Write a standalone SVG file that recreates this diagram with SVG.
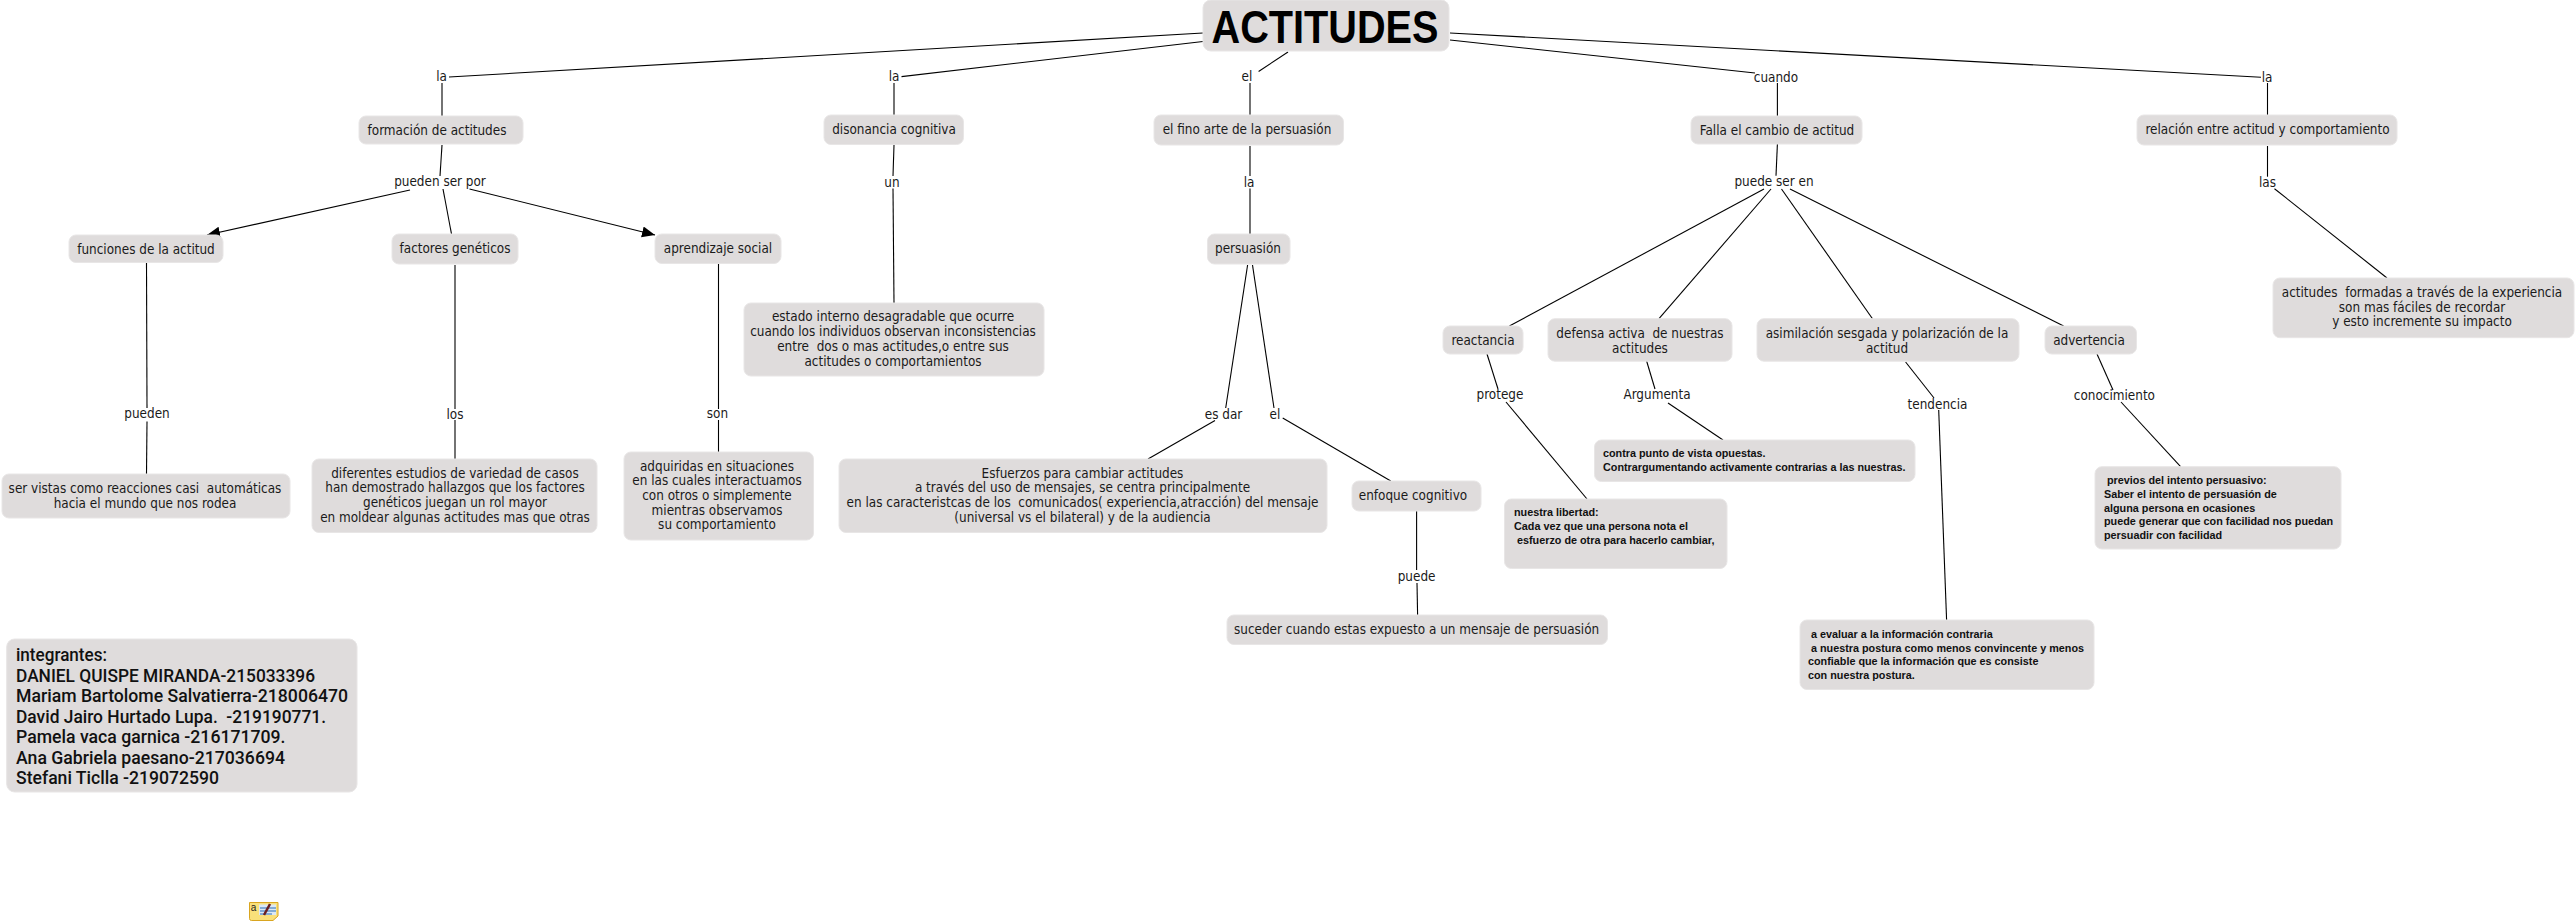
<svg xmlns="http://www.w3.org/2000/svg" width="2576" height="923" viewBox="0 0 2576 923">
<style>
text{font-family:"DejaVu Sans Condensed","DejaVu Sans",sans-serif;font-stretch:condensed;font-size:13.4px;fill:#1a1a1a;text-anchor:middle;white-space:pre}
rect{fill:#dfdcdc;stroke:#e8e6e6;stroke-width:1}
.c line{stroke:#000;stroke-width:1.1;fill:none}
.b text{font-family:"Liberation Sans",Arial,sans-serif;font-stretch:normal;font-weight:bold;font-size:10.8px;text-anchor:start;fill:#111}
.m text{font-family:Roboto,"Liberation Sans",sans-serif;font-stretch:normal;font-weight:500;font-size:18px;text-anchor:start;fill:#111}
#root text{font-family:"Liberation Sans",Arial,sans-serif;font-stretch:normal;font-weight:bold;font-size:46px;fill:#000}
</style>
<defs><marker id="a" markerUnits="userSpaceOnUse" markerWidth="15" markerHeight="13" refX="13" refY="5.5" orient="auto"><path d="M0 0L13 5.5L0 11Z" fill="#000"/></marker></defs>
<g id="connectors" class="c">
<line x1="449" y1="77" x2="1203" y2="33"/><line x1="442" y1="83" x2="442" y2="116"/>
<line x1="442" y1="145" x2="440" y2="176"/>
<line x1="410" y1="190" x2="207" y2="235" marker-end="url(#a)"/>
<line x1="443" y1="189" x2="451.5" y2="234"/>
<line x1="469.5" y1="189" x2="655" y2="235" marker-end="url(#a)"/>
<line x1="146.5" y1="263" x2="147" y2="408"/><line x1="147" y1="421.5" x2="146.5" y2="474"/>
<line x1="455" y1="265" x2="455" y2="409"/><line x1="455" y1="420" x2="455" y2="459"/>
<line x1="718.5" y1="264" x2="718.5" y2="409"/><line x1="718.5" y1="420" x2="718.5" y2="452"/>
<line x1="901.5" y1="76.6" x2="1203" y2="41.5"/><line x1="894" y1="83" x2="894" y2="115"/>
<line x1="894" y1="145" x2="893" y2="176"/><line x1="893" y1="188.5" x2="894" y2="303"/>
<line x1="1288" y1="52" x2="1258.6" y2="71.5"/><line x1="1250" y1="83" x2="1250" y2="115"/>
<line x1="1250" y1="146" x2="1250" y2="176"/><line x1="1250" y1="188.5" x2="1250" y2="234"/>
<line x1="1247.6" y1="265" x2="1225.7" y2="408"/><line x1="1215" y1="420.5" x2="1148" y2="459"/>
<line x1="1252.5" y1="265" x2="1274" y2="408"/><line x1="1282.7" y1="418" x2="1390.8" y2="481"/>
<line x1="1416.6" y1="511" x2="1416.6" y2="570"/><line x1="1417" y1="583" x2="1417.6" y2="615"/>
<line x1="1450" y1="40" x2="1755" y2="73"/><line x1="1777.4" y1="83" x2="1777.4" y2="116"/>
<line x1="1777.4" y1="144" x2="1776" y2="175.7"/>
<line x1="1764" y1="189" x2="1509.4" y2="326"/><line x1="1771" y1="189" x2="1659" y2="318.7"/>
<line x1="1781.5" y1="189" x2="1872.5" y2="318.7"/><line x1="1790" y1="189" x2="2063.6" y2="326"/>
<line x1="1487" y1="354" x2="1498" y2="389"/><line x1="1506" y1="402" x2="1587" y2="499"/>
<line x1="1646.6" y1="361" x2="1655" y2="389"/><line x1="1668" y1="403" x2="1723" y2="440"/>
<line x1="1905.6" y1="362" x2="1934" y2="398"/><line x1="1938.7" y1="410" x2="1946.6" y2="620"/>
<line x1="2097" y1="354" x2="2113" y2="390"/><line x1="2121" y1="402" x2="2180.6" y2="466.7"/>
<line x1="1450" y1="33" x2="2261" y2="77.3"/><line x1="2267.5" y1="83" x2="2267.5" y2="115"/>
<line x1="2267.5" y1="146" x2="2267.5" y2="176.7"/><line x1="2274.5" y1="188.7" x2="2387" y2="278"/>
</g>
<g id="labels">
<text x="441.5" y="81">la</text><text x="440" y="185.5">pueden ser por</text><text x="147" y="417.5">pueden</text><text x="455" y="418.5">los</text><text x="717.5" y="418">son</text>
<text x="894" y="81">la</text><text x="892" y="186.5">un</text><text x="1247" y="81">el</text><text x="1249" y="186.5">la</text><text x="1223.5" y="418.5">es dar</text><text x="1275" y="418.5">el</text><text x="1416.6" y="580.5">puede</text>
<text x="1776" y="81.5">cuando</text><text x="1774" y="185.5">puede ser en</text><text x="2267" y="81.5">la</text><text x="2267.5" y="186.5">las</text>
<text x="1500" y="399">protege</text><text x="1657" y="399">Argumenta</text><text x="1937.5" y="408.5">tendencia</text><text x="2114.4" y="400">conocimiento</text>
</g>
<g id="root"><rect x="1203" y="0" width="246" height="51" rx="8"/><text x="1325" y="43" textLength="227" lengthAdjust="spacingAndGlyphs">ACTITUDES</text></g>
<g id="n1"><rect x="359" y="116" width="164" height="28" rx="7"/><text x="437" y="135">formación de actitudes</text></g>
<g id="n2"><rect x="69" y="235" width="154" height="27.5" rx="7"/><text x="146" y="253.5">funciones de la actitud</text></g>
<g id="n3"><rect x="392" y="234" width="126" height="30" rx="7"/><text x="455" y="253">factores genéticos</text></g>
<g id="n4"><rect x="655" y="234" width="126" height="29.5" rx="7"/><text x="718" y="252.5">aprendizaje social</text></g>
<g id="n5"><rect x="2" y="474" width="288" height="44" rx="7"/><text x="145" y="493">ser vistas como reacciones casi  automáticas</text><text x="145" y="507.5">hacia el mundo que nos rodea</text></g>
<g id="n6"><rect x="312" y="459" width="285" height="73.5" rx="7"/><text x="455" y="477.5">diferentes estudios de variedad de casos</text><text x="455" y="492">han demostrado hallazgos que los factores</text><text x="455" y="506.5">genéticos juegan un rol mayor</text><text x="455" y="521.5">en moldear algunas actitudes mas que otras</text></g>
<g id="n7"><rect x="624" y="452" width="189.5" height="88" rx="7"/><text x="717" y="470.5">adquiridas en situaciones</text><text x="717" y="485">en las cuales interactuamos</text><text x="717" y="499.5">con otros o simplemente</text><text x="717" y="514.5">mientras observamos</text><text x="717" y="528.5">su comportamiento</text></g>
<g id="n8"><rect x="824" y="115" width="139.5" height="29.5" rx="7"/><text x="894" y="133.5">disonancia cognitiva</text></g>
<g id="n9"><rect x="744" y="303" width="300" height="73" rx="7"/><text x="893" y="321">estado interno desagradable que ocurre</text><text x="893" y="335.5">cuando los individuos observan inconsistencias</text><text x="893" y="350.5">entre  dos o mas actitudes,o entre sus</text><text x="893" y="365.5">actitudes o comportamientos</text></g>
<g id="n10"><rect x="1154" y="115" width="189.5" height="30" rx="7"/><text x="1247" y="133.5">el fino arte de la persuasión</text></g>
<g id="n11"><rect x="1207.5" y="234" width="82.5" height="30" rx="7"/><text x="1248" y="253">persuasión</text></g>
<g id="n12"><rect x="839" y="459" width="488" height="73.5" rx="7"/><text x="1082.5" y="477.5">Esfuerzos para cambiar actitudes</text><text x="1082.5" y="492">a través del uso de mensajes, se centra principalmente</text><text x="1082.5" y="506.5">en las caracteristcas de los  comunicados( experiencia,atracción) del mensaje</text><text x="1082.5" y="521.5">(universal vs el bilateral) y de la audiencia</text></g>
<g id="n13"><rect x="1352" y="481" width="129" height="30" rx="7"/><text x="1413" y="499.5">enfoque cognitivo</text></g>
<g id="n14"><rect x="1227" y="615" width="380.5" height="29.5" rx="7"/><text x="1416.6" y="633.5">suceder cuando estas expuesto a un mensaje de persuasión</text></g>
<g id="n15"><rect x="1691" y="116" width="171" height="28" rx="7"/><text x="1777" y="134.5">Falla el cambio de actitud</text></g>
<g id="n16"><rect x="1443" y="326" width="80" height="28" rx="7"/><text x="1483" y="345">reactancia</text></g>
<g id="n17"><rect x="1548" y="318.7" width="184" height="42.5" rx="7"/><text x="1640" y="337.5">defensa activa  de nuestras</text><text x="1640" y="352.5">actitudes</text></g>
<g id="n18"><rect x="1757" y="318.7" width="262" height="42.5" rx="7"/><text x="1887" y="338">asimilación sesgada y polarización de la</text><text x="1887" y="352.5">actitud</text></g>
<g id="n19"><rect x="2045" y="326" width="91.5" height="28" rx="7"/><text x="2089" y="344.5">advertencia</text></g>
<g id="n20" class="b"><rect x="1504.5" y="499" width="222.5" height="69.5" rx="7"/><text x="1514" y="516">nuestra libertad:</text><text x="1514" y="530">Cada vez que una persona nota el</text><text x="1514" y="544"> esfuerzo de otra para hacerlo cambiar,</text></g>
<g id="n21" class="b"><rect x="1594.5" y="440" width="320.5" height="41.5" rx="7"/><text x="1603" y="457">contra punto de vista opuestas.</text><text x="1603" y="471">Contrargumentando activamente contrarias a las nuestras.</text></g>
<g id="n22" class="b"><rect x="1800" y="620" width="294" height="69.5" rx="7"/><text x="1808" y="638"> a evaluar a la información contraria</text><text x="1808" y="651.5"> a nuestra postura como menos convincente y menos</text><text x="1808" y="665">confiable que la información que es consiste</text><text x="1808" y="679">con nuestra postura.</text></g>
<g id="n23" class="b"><rect x="2095" y="466.7" width="246" height="82.3" rx="7"/><text x="2104" y="484"> previos del intento persuasivo:</text><text x="2104" y="498">Saber el intento de persuasión de</text><text x="2104" y="511.5">alguna persona en ocasiones</text><text x="2104" y="525">puede generar que con facilidad nos puedan</text><text x="2104" y="539">persuadir con facilidad</text></g>
<g id="n24"><rect x="2137" y="115" width="260" height="30" rx="7"/><text x="2267.5" y="134">relación entre actitud y comportamiento</text></g>
<g id="n25"><rect x="2273" y="278" width="301" height="59.7" rx="7"/><text x="2422" y="297">actitudes  formadas a través de la experiencia</text><text x="2422" y="311.5">son mas fáciles de recordar</text><text x="2422" y="326">y esto incremente su impacto</text></g>
<g id="n26" class="m"><rect x="6.7" y="639" width="350.3" height="153" rx="8"/><text x="16" y="661" textLength="91" lengthAdjust="spacingAndGlyphs">integrantes:</text><text x="16" y="681.7" textLength="299" lengthAdjust="spacingAndGlyphs">DANIEL QUISPE MIRANDA-215033396</text><text x="16" y="702" textLength="332" lengthAdjust="spacingAndGlyphs">Mariam Bartolome Salvatierra-218006470</text><text x="16" y="722.7" textLength="310" lengthAdjust="spacingAndGlyphs">David Jairo Hurtado Lupa.  -219190771.</text><text x="16" y="743" textLength="269.5" lengthAdjust="spacingAndGlyphs">Pamela vaca garnica -216171709.</text><text x="16" y="763.5" textLength="269" lengthAdjust="spacingAndGlyphs">Ana Gabriela paesano-217036694</text><text x="16" y="783.5" textLength="203" lengthAdjust="spacingAndGlyphs">Stefani Ticlla -219072590</text></g>
<g id="icon"><path d="M249.5 902.5H278V916L273 920.5H251.5Q249.5 920.5 249.5 918.5Z" style="fill:#f9e07a;stroke:#d9a520;stroke-width:1"/><path d="M259 904.5H276V915H259Z" style="fill:#dbe8f5"/><path d="M260 908H276M260 911H276M260 914H272" style="stroke:#2b6fb5;stroke-width:1;fill:none"/><path d="M264 915L270 904" style="stroke:#6b1f1f;stroke-width:2.5;fill:none"/><text x="253.5" y="911" style="font-family:'Liberation Sans',sans-serif;font-stretch:normal;font-size:10px;fill:#222">a</text></g>
</svg>
